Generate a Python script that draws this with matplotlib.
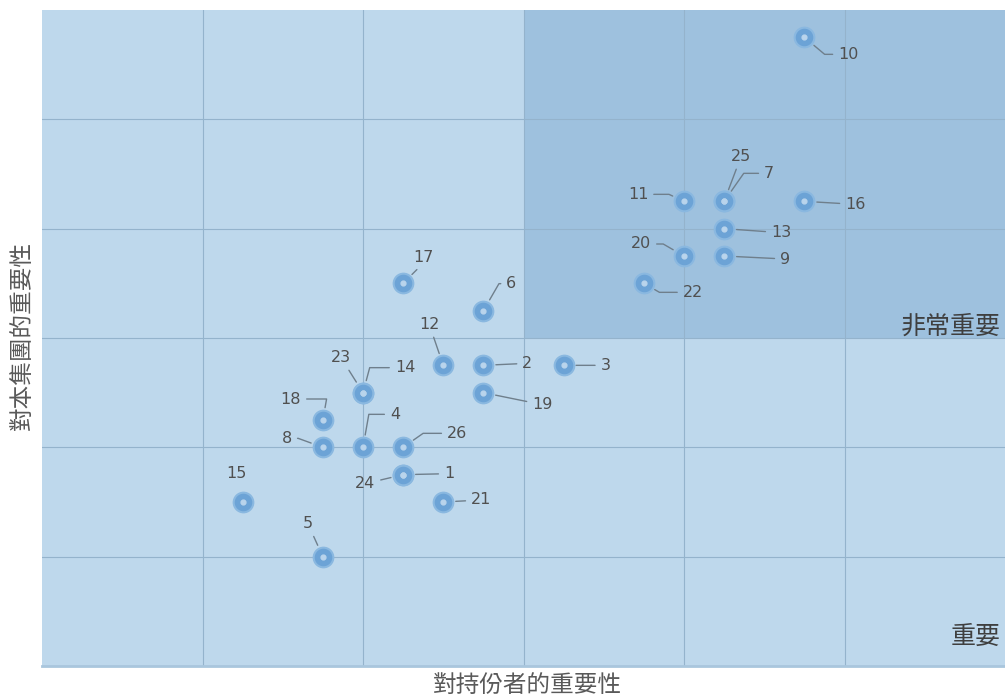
import matplotlib.pyplot as plt
from matplotlib.patches import Rectangle

plt.rcParams['font.family'] = ['Noto Sans CJK TC', 'DejaVu Sans']

# issue ids and their scores (stakeholder importance, group importance)
ids = ["10", "25", "7", "11", "16", "13", "20", "9", "22", "17", "6", "12", "2", "3",
       "23", "14", "19", "18", "4", "8", "26", "1", "24", "21", "15", "5"]
x_vals = [4.75, 4.25, 4.25, 4.0, 4.75, 4.25, 4.0, 4.25, 3.75, 2.25, 2.75, 2.5, 2.75, 3.25,
          2.0, 2.0, 2.75, 1.75, 2.0, 1.75, 2.25, 2.25, 2.25, 2.5, 1.25, 1.75]
y_vals = [5.75, 4.25, 4.25, 4.25, 4.25, 4.0, 3.75, 3.75, 3.5, 3.5, 3.25, 2.75, 2.75, 2.75,
          2.5, 2.5, 2.5, 2.25, 2.0, 2.0, 2.0, 1.75, 1.75, 1.5, 1.5, 1.0]

# label offsets in pixels (dx, dy) from each point
offsets = {
    "10": (44, -17), "25": (17, 45), "7": (45, 28), "11": (-46, 7), "16": (51, -3),
    "13": (57, -4), "20": (-43, 12), "9": (61, -3), "22": (49, -9), "17": (20, 26),
    "6": (28, 27), "12": (-14, 41), "2": (44, 2), "3": (42, 0), "23": (-22, 35),
    "14": (42, 25), "19": (59, -12), "18": (-32, 21), "4": (32, 33), "8": (-36, 9),
    "26": (54, 14), "1": (46, 1), "24": (-38, -9), "21": (38, 2), "15": (-6, 28),
    "5": (-15, 33),
}
# leader elbow angles at the point end (None = straight line)
elbows = {"10": -40, "7": 55, "11": -25, "20": -30, "22": -30, "6": 60, "14": 75,
          "18": 80, "4": 80, "26": 35, "8": -20, "17": 45}

quad_x, quad_y = 3.0, 3.0
light = "#bed8ec"
dark = "#9ec1de"
text_grey = "#595959"

fig = plt.figure(figsize=(10.05, 6.98), dpi=100)
ax = fig.add_axes([42 / 1005, 32 / 698, 963 / 1005, 656 / 698])
ax.set_xlim(0, 6)
ax.set_ylim(0, 6)
ax.set_facecolor(light)
ax.add_patch(Rectangle((quad_x, quad_y), 6 - quad_x, 6 - quad_y, facecolor=dark,
                       edgecolor="none", zorder=0.5))
ax.set_xticks(range(1, 6))
ax.set_yticks(range(1, 6))
ax.grid(True, color="#94b3cc", linewidth=0.8, zorder=1)
ax.tick_params(length=0, labelbottom=False, labelleft=False)
for s in ax.spines.values():
    s.set_visible(False)
ax.spines["bottom"].set_visible(True)
ax.spines["bottom"].set_color("#a9c6dd")
ax.spines["bottom"].set_linewidth(2)

ax.scatter(x_vals, y_vals, s=200, color="#6ca3d6", edgecolors="#8ab8e0", linewidths=1.5,
           zorder=3)
ax.scatter(x_vals, y_vals, s=12, color="#b9d4ec", zorder=4)

for lab, xv, yv in zip(ids, x_vals, y_vals):
    dx, dy = offsets[lab]
    props = None
    if lab != "15":
        props = dict(arrowstyle="-", color="#6f7f8c", lw=1.0, shrinkA=2, shrinkB=9)
        if lab in elbows:
            props["connectionstyle"] = f"angle,angleA=0,angleB={elbows[lab]},rad=0"
    ax.annotate(lab, (xv, yv), xytext=(dx, dy), textcoords="offset pixels",
                ha="center", va="center", fontsize=11.5, color="#505050",
                family="DejaVu Sans", arrowprops=props, zorder=5)

ax.text(0.995, 0.497, "非常重要", transform=ax.transAxes, ha="right", va="bottom",
        fontsize=18, color="#3f3f3f")
ax.text(0.995, 0.025, "重要", transform=ax.transAxes, ha="right", va="bottom",
        fontsize=18, color="#3f3f3f")

fig.text(527 / 1005, 13 / 698, "對持份者的重要性", ha="center", va="center",
         fontsize=17, color=text_grey)
fig.text(22 / 1005, 0.52, "對本集團的重要性", ha="center", va="center", rotation=90,
         fontsize=17, color=text_grey)

fig.savefig("out.png", dpi=100)
